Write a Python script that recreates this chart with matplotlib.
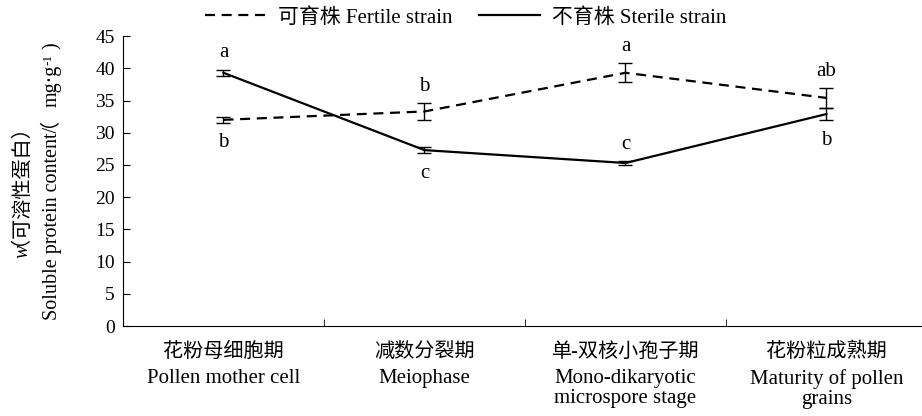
import matplotlib.pyplot as plt
import matplotlib.transforms as mtransforms
from matplotlib.lines import Line2D
import numpy as np

plt.rcParams['font.family'] = ['Liberation Serif', 'Noto Sans CJK SC']

stage_cn = ["花粉母细胞期", "减数分裂期", "单-双核小孢子期", "花粉粒成熟期"]
stage_en = ["Pollen mother cell", "Meiophase",
            "Mono-dikaryotic\nmicrospore stage", "Maturity of pollen\ngrains"]
fertile = [32.0, 33.3, 39.3, 35.4]
fertile_err = [0.5, 1.3, 1.5, 1.6]
fertile_sig = ["b", "b", "a", "ab"]
sterile = [39.3, 27.3, 25.3, 32.9]
sterile_err = [0.5, 0.5, 0.3, 1.0]
sterile_sig = ["a", "c", "c", "b"]
# 1 = letter above the point, -1 = below
fertile_pos = [-1, 1, 1, 1]
sterile_pos = [1, -1, 1, -1]

fig = plt.figure(figsize=(9.22, 4.16), dpi=100)
ax = fig.add_axes([0.1334, 0.2163, 0.872, 0.697])

x = np.arange(len(stage_cn))
dash = (0, (4.5, 3))
ax.errorbar(x, fertile, yerr=fertile_err, color="black", lw=1.6,
            linestyle=dash, capsize=5, elinewidth=1, capthick=1)
ax.errorbar(x, sterile, yerr=sterile_err, color="black", lw=1.6,
            capsize=5, elinewidth=1, capthick=1)

for vals, errs, sig, pos in [(fertile, fertile_err, fertile_sig, fertile_pos),
                             (sterile, sterile_err, sterile_sig, sterile_pos)]:
    for i in range(len(vals)):
        if pos[i] > 0:
            ax.text(x[i], vals[i] + errs[i] + 1.1, sig[i], ha="center",
                    va="bottom", fontsize=15)
        else:
            ax.text(x[i], vals[i] - errs[i] - 1.6, sig[i], ha="center",
                    va="top", fontsize=15)

ax.set_xlim(-0.5, 3.5)
ax.set_ylim(0, 45)
ax.set_yticks(range(0, 46, 5))
ax.set_xticks([])
ax.set_xticks([0.5, 1.5, 2.5], minor=True)
ax.tick_params(axis="x", which="minor", direction="in", length=5)
ax.tick_params(axis="y", direction="in", length=5, labelsize=14, pad=6)
ax.spines["top"].set_visible(False)
ax.spines["right"].set_visible(False)

trans = mtransforms.blended_transform_factory(ax.transData, ax.transAxes)
for i in range(len(stage_cn)):
    ax.text(x[i], -0.092, stage_cn[i], transform=trans, ha="center",
            va="center", fontsize=14.5)
    ax.text(x[i], -0.148, stage_en[i], transform=trans, ha="center",
            va="top", fontsize=15, linespacing=1.05)

SERIF = "Liberation Serif"
CJK = "Noto Sans CJK SC"


def rotated_line(xpix, ycenter, pieces):
    """draw pieces of a vertical label one after another on one baseline"""
    renderer = fig.canvas.get_renderer()
    ident = mtransforms.IdentityTransform()
    texts = []
    y = 0.0
    for s, fam, size, style, dx in pieces:
        t = fig.text(xpix + dx, y, s, rotation=90, rotation_mode="anchor",
                     ha="left", va="baseline", fontsize=size, family=fam,
                     fontstyle=style, transform=ident)
        bb = t.get_window_extent(renderer)
        texts.append(t)
        y = bb.y1
    shift = ycenter - y / 2
    for t in texts:
        px, py = t.get_position()
        t.set_position((px, py + shift))


yc = 416 - (36 + 326) / 2
rotated_line(28, yc, [("w", SERIF, 14.5, "italic", 0),
                      ("（可溶性蛋白）", CJK, 14.5, "normal", -13)])
rotated_line(57, yc, [("Soluble protein content/", SERIF, 14.5, "normal", 0),
                      ("（", CJK, 14.5, "normal", -13),
                      ("mg·g", SERIF, 14.5, "normal", 0),
                      ("-1", SERIF, 9.5, "normal", -6),
                      (" )", SERIF, 14.5, "normal", 0)])

handles = [Line2D([], [], color="black", lw=1.6, linestyle=dash),
           Line2D([], [], color="black", lw=1.6)]
labels = ["可育株 Fertile strain", "不育株 Sterile strain"]
fig.legend(handles, labels, loc="center", bbox_to_anchor=(0.505, 0.957),
           ncol=2, frameon=False, fontsize=15, handlelength=2.9,
           columnspacing=1.3, handletextpad=0.6)

fig.savefig("out.png", dpi=100)
